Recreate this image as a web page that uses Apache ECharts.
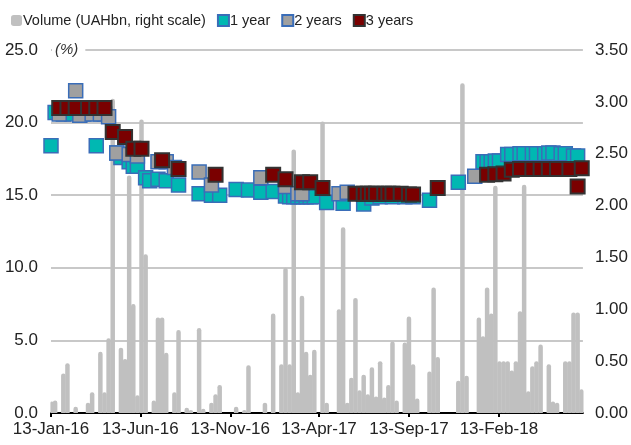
<!DOCTYPE html>
<html>
<head>
<meta charset="utf-8">
<script src="https://cdn.jsdelivr.net/npm/echarts@6/dist/echarts.min.js"></script>
<style>
  html, body { margin: 0; padding: 0; background: #fff; }
  #main { width: 631px; height: 445px; }
</style>
</head>
<body>
<div id="main"></div>
<script>
// weekly auction data, first week = 13-Jan-16
var firstDay = Date.UTC(2016, 0, 13);
var dayCount = 906; // 13-Jan-16 .. 06-Jul-18
var xTickLabels = ['13-Jan-16', '13-Jun-16', '13-Nov-16', '13-Apr-17', '13-Sep-17', '13-Feb-18'];

// volume, UAHbn (right scale)
var volume = [
  0.11, 0.12, null, 0.38, 0.48, null, 0.06, null, null, 0.10,
  0.20, null, 0.59, 0.20, 0.72, 3.03, null, 0.63, 0.52, 2.29,
  1.05, 0.17, 2.83, 1.53, null, 0.12, 0.92, 0.92, 0.58, null,
  0.20, 0.80, null, 0.05, 0.03, null, 0.82, 0.04, null, 0.10,
  0.18, 0.27, null, null, null, 0.06, null, 0.03, 0.46, null,
  null, null, 0.10, null, 0.96, null, 0.47, 1.40, 0.47, 2.54,
  0.20, 1.13, 0.59, 0.37, 0.61, null, 2.81, 0.10, null, null,
  1.00, 1.79, 0.10, 0.34, 1.11, 0.22, 0.37, 0.18, 0.44, 0.16,
  0.50, 0.15, 0.27, 0.69, 0.12, null, 0.68, 0.93, 0.47, 0.14,
  null, null, 0.40, 1.21, 0.54, null, null, null, null, 0.31,
  3.18, 0.36, null, null, 0.92, 0.74, 1.21, 0.96, 2.19, 0.50,
  0.50, 0.50, 0.41, 0.50, 0.98, 2.20, 0.21, 0.45, 0.50, 0.66,
  null, 0.47, 0.11, 0.10, null, 0.50, 0.50, 0.97, 0.97, 0.23
];

// yields, %
var year1 = [
  18.4, 20.7, null, 20.6, null, 20.6, null, null, 20.6, null,
  null, 18.4, null, 20.6, null, null, 17.9, 17.6, null, 17.3,
  17.0, 17.0, null, 16.2, 16.0, null, 16.1, null, 16.0, null,
  null, 15.7, null, null, null, null, 15.1, null, null, 15.0,
  null, 15.0, null, null, null, 15.4, null, null, 15.35, null,
  null, 15.2, null, null, 15.25, null, null, 14.95, 14.9, 14.9,
  14.9, 14.9, 14.9, 14.9, 14.9, null, null, 14.5, null, null,
  null, 14.45, null, null, null, null, 14.4, null, 14.8, null,
  14.9, null, null, 14.9, null, null, 14.9, null, 14.9, null,
  null, null, 14.65, null, null, null, null, null, null, 15.9,
  null, null, null, null, null, 17.3, 17.3, 17.3, 17.35, 17.35,
  null, 17.8, 17.8, null, 17.85, 17.85, null, 17.85, 17.85, null,
  17.85, 17.9, 17.9, null, 17.85, 17.85, null, 17.7, 17.7, null
];

var year2 = [
  null, null, 20.6, null, null, null, 22.2, 20.5, null, null,
  20.6, null, 20.6, null, 20.4, null, 17.9, null, null, 17.8,
  null, 17.7, null, null, null, null, 17.3, null, 17.3, null,
  16.9, null, null, null, null, null, 16.6, null, null, 15.7,
  null, null, null, null, null, null, null, null, null, null,
  null, 16.2, null, null, null, null, null, 15.6, null, null,
  15.1, 15.1, null, null, null, null, null, null, null, null,
  15.1, null, 15.2, null, null, null, null, null, null, null,
  null, null, null, null, null, null, null, null, null, null,
  null, null, null, null, null, null, null, null, null, null,
  null, null, null, 16.3, null, null, null, null, null, null,
  null, null, null, null, null, null, null, null, null, null,
  null, null, null, null, null, null, null, null, null, null
];

var year3 = [
  null, null, 21.0, null, 21.0, null, 21.0, null, null, 21.0,
  null, 21.0, null, 21.0, null, 19.35, null, null, 19.0, null,
  18.2, null, 18.2, null, null, null, null, 17.4, null, null,
  null, 16.8, null, null, null, null, null, null, null, null,
  16.4, null, null, null, null, null, null, null, null, null,
  null, null, null, null, 16.4, null, null, 16.1, null, null,
  null, 15.9, null, 15.9, null, null, 15.5, null, null, null,
  null, null, null, null, 15.1, null, 15.1, 15.1, 15.1, 15.1,
  null, 15.1, 15.1, 15.1, null, 15.1, null, 15.05, 15.05, null,
  null, null, null, null, 15.5, null, null, null, null, null,
  null, null, null, null, null, null, 16.4, null, 16.45, null,
  16.5, null, 16.75, null, 16.8, null, null, 16.8, null, 16.8,
  null, 16.8, null, 16.8, null, null, 16.8, null, 15.6, 16.85
];

var monthNames = ['Jan','Feb','Mar','Apr','May','Jun','Jul','Aug','Sep','Oct','Nov','Dec'];
function fmtDay(t) {
  var d = new Date(t);
  return d.getUTCDate() + '-' + monthNames[d.getUTCMonth()] + '-' + String(d.getUTCFullYear()).slice(2);
}
var days = [];
for (var i = 0; i < dayCount; i++) days.push(fmtDay(firstDay + i * 86400000));

// put weekly values on the daily axis
function toDaily(arr) {
  var out = [];
  for (var i = 0; i < dayCount; i++) out.push('-');
  arr.forEach(function (v, w) { if (v != null) out[w * 7] = v; });
  return out;
}
function isTick(index, value) { return xTickLabels.indexOf(value) > -1; }

var FONT = '"Liberation Sans Narrow", "Arial Narrow", sans-serif';
var chart = echarts.init(document.getElementById('main'));
var option = {
  animation: false,
  textStyle: { fontFamily: FONT },
  legend: {
    left: 6,
    top: 8,
    itemWidth: 11,
    itemHeight: 11,
    itemGap: 11,
    textStyle: { fontFamily: FONT, fontSize: 14.5, color: '#222', padding: [0, 0, 0, -4] },
    data: [
      { name: 'Volume (UAHbn, right scale)', icon: 'roundRect' },
      { name: '1 year', icon: 'rect' },
      { name: '2 years', icon: 'rect' },
      { name: '3 years', icon: 'rect' }
    ]
  },
  grid: { left: 51, right: 46, top: 50, bottom: 32 },
  xAxis: {
    type: 'category',
    data: days,
    boundaryGap: false,
    axisLine: { lineStyle: { color: '#000', width: 2 } },
    axisTick: { interval: isTick, length: 4, lineStyle: { color: '#000', width: 2 } },
    axisLabel: { interval: isTick, fontFamily: FONT, fontSize: 17, color: '#222', margin: 8 },
    splitLine: { show: false }
  },
  yAxis: [
    {
      type: 'value', min: 0, max: 25, interval: 5,
      axisLine: { show: false }, axisTick: { show: false },
      axisLabel: { fontFamily: FONT, fontSize: 17, color: '#222', margin: 13,
        formatter: function (v) { return v.toFixed(1); } },
      splitLine: { lineStyle: { color: '#C8C8C8', width: 2 } }
    },
    {
      type: 'value', min: 0, max: 3.5, interval: 0.5,
      axisLine: { show: false }, axisTick: { show: false },
      axisLabel: { fontFamily: FONT, fontSize: 17, color: '#222', margin: 12,
        formatter: function (v) { return v.toFixed(2); } },
      splitLine: { show: false }
    }
  ],
  graphic: [{
    type: 'text', left: 52, top: 42, z: 100,
    style: { text: '(%)', font: 'italic 15px ' + FONT, fill: '#333',
      backgroundColor: '#fff', padding: [0, 7, 0, 3] }
  }],
  series: [
    {
      name: 'Volume (UAHbn, right scale)', type: 'bar', yAxisIndex: 1,
      data: toDaily(volume), barWidth: 4.5,
      itemStyle: { color: '#C0C0C0', borderRadius: [2.2, 2.2, 0, 0] }
    },
    {
      name: '1 year', type: 'scatter', data: toDaily(year1),
      symbol: 'rect', symbolSize: 14,
      itemStyle: { color: '#00B8B2', borderColor: '#3A6DB8', borderWidth: 1.5, opacity: 1 }
    },
    {
      name: '2 years', type: 'scatter', data: toDaily(year2),
      symbol: 'rect', symbolSize: 14,
      itemStyle: { color: '#A0A0A0', borderColor: '#3A6DB8', borderWidth: 1.5, opacity: 1 }
    },
    {
      name: '3 years', type: 'scatter', data: toDaily(year3),
      symbol: 'rect', symbolSize: 14,
      itemStyle: { color: '#7A0000', borderColor: '#333333', borderWidth: 2, opacity: 1 }
    }
  ]
};
chart.setOption(option);
</script>
</body>
</html>
